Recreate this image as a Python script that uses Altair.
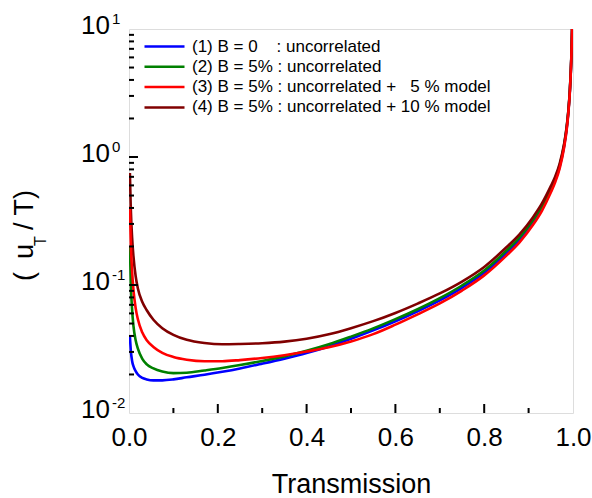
import altair as alt
import pandas as pd

# ---- data ----
T = [0.002, 0.004, 0.007, 0.01, 0.015, 0.02, 0.03, 0.04, 0.055, 0.075,
     0.1, 0.13, 0.17, 0.21, 0.25, 0.3, 0.35, 0.4, 0.45, 0.5,
     0.55, 0.6, 0.65, 0.7, 0.75, 0.8, 0.85, 0.88, 0.91, 0.93,
     0.95, 0.96, 0.97, 0.98, 0.986, 0.99, 0.993, 0.996, 0.998, 0.9995]

s1 = [0.040, 0.031, 0.0255, 0.0232, 0.0212, 0.0200, 0.0188, 0.0183, 0.0180, 0.0180,
      0.0183, 0.0190, 0.0199, 0.0210, 0.0223, 0.0243, 0.0266, 0.0294, 0.0331, 0.0380,
      0.0442, 0.0521, 0.0624, 0.0759, 0.0951, 0.1245, 0.178, 0.2265, 0.309, 0.398,
      0.5495, 0.661, 0.841, 1.216, 1.698, 2.344, 3.311, 5.623, 10.0, 20.0]
s2 = [0.20, 0.105, 0.064, 0.048, 0.037, 0.0318, 0.0265, 0.0240, 0.0223, 0.0211,
      0.0205, 0.0206, 0.0215, 0.0225, 0.0237, 0.0255, 0.0277, 0.0306, 0.0344, 0.0395,
      0.0458, 0.0541, 0.0647, 0.0789, 0.0991, 0.1297, 0.1854, 0.236, 0.3214, 0.413,
      0.5675, 0.681, 0.863, 1.242, 1.730, 2.377, 3.35, 5.675, 10.07, 20.0]
s3 = [0.41, 0.215, 0.128, 0.092, 0.066, 0.054, 0.0425, 0.037, 0.0328, 0.0295,
      0.0274, 0.0261, 0.0254, 0.0254, 0.0259, 0.0269, 0.0283, 0.0302, 0.0326, 0.0362,
      0.0413, 0.0490, 0.0590, 0.0718, 0.0905, 0.1189, 0.1698, 0.2163, 0.2951, 0.3802,
      0.5272, 0.6368, 0.8147, 1.183, 1.660, 2.301, 3.258, 5.559, 9.93, 20.0]
s4 = [0.75, 0.40, 0.235, 0.168, 0.117, 0.094, 0.0735, 0.0635, 0.0535, 0.0460,
      0.0408, 0.0373, 0.0352, 0.0344, 0.0346, 0.0351, 0.0361, 0.0380, 0.0412, 0.0460,
      0.0522, 0.0605, 0.0716, 0.0859, 0.1064, 0.1384, 0.1972, 0.25, 0.3388, 0.4335,
      0.5916, 0.7047, 0.8892, 1.268, 1.754, 2.399, 3.365, 5.715, 10.16, 20.0]

labels = [
    "(1) B = 0\u00a0\u00a0\u00a0\u00a0: uncorrelated",
    "(2) B = 5% : uncorrelated",
    "(3) B = 5% : uncorrelated +\u00a0\u00a0\u00a05 % model",
    "(4) B = 5% : uncorrelated + 10 % model",
]
colors = ["#0000FF", "#008000", "#FF0000", "#800000"]

x_major = [0.2, 0.4, 0.6, 0.8]
x_minor = [0.1, 0.3, 0.5, 0.7, 0.9]
x_labels = [0.0, 0.2, 0.4, 0.6, 0.8, 1.0]
y_major = [0.01, 0.1, 1.0, 10.0]
y_exp = ["-2", "-1", "0", "1"]
y_minor = [m * d for d in (0.01, 0.1, 1.0) for m in range(2, 10)]

FONT = "Liberation Sans"

rows = []
for lab, ser in zip(labels, [s1, s2, s3, s4]):
    for t, v in zip(T, ser):
        rows.append({"T": t, "v": v, "series": lab})
df = pd.DataFrame(rows)

xscale = alt.Scale(domain=[0, 1], nice=False, zero=False)
yscale = alt.Scale(type="log", domain=[0.01, 10], nice=False)

color = alt.Color(
    "series:N",
    scale=alt.Scale(domain=labels, range=colors),
    legend=alt.Legend(
        orient="none", legendX=14, legendY=6, title=None,
        symbolType="M-1,0H3", symbolSize=400, symbolStrokeWidth=2.5,
        labelFont=FONT, labelFontSize=17, labelColor="black",
        labelOffset=26, labelLimit=500, rowPadding=0.3, padding=0,
    ),
)

xaxis = alt.Axis(
    values=x_labels, format=".1f", labelFont=FONT, labelFontSize=26,
    labelColor="black", labelFlush=False, labelPadding=11, labelOverlap=False,
    ticks=False, domain=False, grid=False, title="Transmission", titleFont=FONT,
    titleFontSize=27, titleFontWeight="normal", titleColor="black",
    titleY=79, titleBaseline="alphabetic",
)

layers = []
for i in [0, 1, 3, 2]:
    lab = labels[i]
    sub = df[df["series"] == lab]
    layers.append(
        alt.Chart(sub).mark_line(strokeWidth=2.6, clip=True, interpolate="monotone").encode(
            x=alt.X("T:Q", scale=xscale, axis=xaxis),
            y=alt.Y("v:Q", scale=yscale, axis=None),
            color=color,
        )
    )

# inward ticks
xmaj = alt.Chart(pd.DataFrame({"T": x_major})).mark_rule(color="black", strokeWidth=2).encode(
    x=alt.X("T:Q", scale=xscale, axis=xaxis), y=alt.value(384), y2=alt.value(375))
xmin = alt.Chart(pd.DataFrame({"T": x_minor})).mark_rule(color="black", strokeWidth=2).encode(
    x=alt.X("T:Q", scale=xscale, axis=xaxis), y=alt.value(384), y2=alt.value(379))
ymaj = alt.Chart(pd.DataFrame({"v": y_major[1:3]})).mark_rule(color="black", strokeWidth=2).encode(
    y=alt.Y("v:Q", scale=yscale, axis=None), x=alt.value(0), x2=alt.value(9))
ymin = alt.Chart(pd.DataFrame({"v": y_minor})).mark_rule(color="black", strokeWidth=2).encode(
    y=alt.Y("v:Q", scale=yscale, axis=None), x=alt.value(0), x2=alt.value(5))

# y tick labels 10^k
ylab_df = pd.DataFrame({"v": y_major, "e": y_exp, "base": ["10"] * 4})
ylab = alt.Chart(ylab_df).mark_text(
    font=FONT, fontSize=26, align="right", baseline="alphabetic", dy=5, color="black"
).encode(y=alt.Y("v:Q", scale=yscale, axis=None), x=alt.value(-19), text="base:N")
yexp = alt.Chart(ylab_df).mark_text(
    font=FONT, fontSize=15, align="left", baseline="alphabetic", dy=-5, color="black"
).encode(y=alt.Y("v:Q", scale=yscale, axis=None), x=alt.value(-17), text="e:N")

# y title "( u_T / T)"
def ttext(txt, x, y, size):
    return alt.Chart(pd.DataFrame({"s": [txt]})).mark_text(
        font=FONT, fontSize=size, angle=270, align="left", baseline="alphabetic", color="black"
    ).encode(x=alt.value(x), y=alt.value(y), text="s:N")

ytitle = [
    ttext("(", -96, 252, 27),
    ttext("u", -96, 230, 27),
    ttext("T", -83.5, 217, 16),
    ttext("/ T)", -96, 201, 27),
]

chart = alt.layer(
    *layers, xmaj, xmin, ymaj, ymin, ylab, yexp, *ytitle
).resolve_scale(
    color="shared"
).properties(
    width=444, height=384,
    autosize=alt.AutoSizeParams(type="none"),
    padding={"left": 129, "top": 29, "right": 19, "bottom": 85},
).configure_view(
    stroke="black", strokeWidth=2
).configure(background="white")

chart.save("out.html", embed_options={"renderer": "svg", "actions": False})
